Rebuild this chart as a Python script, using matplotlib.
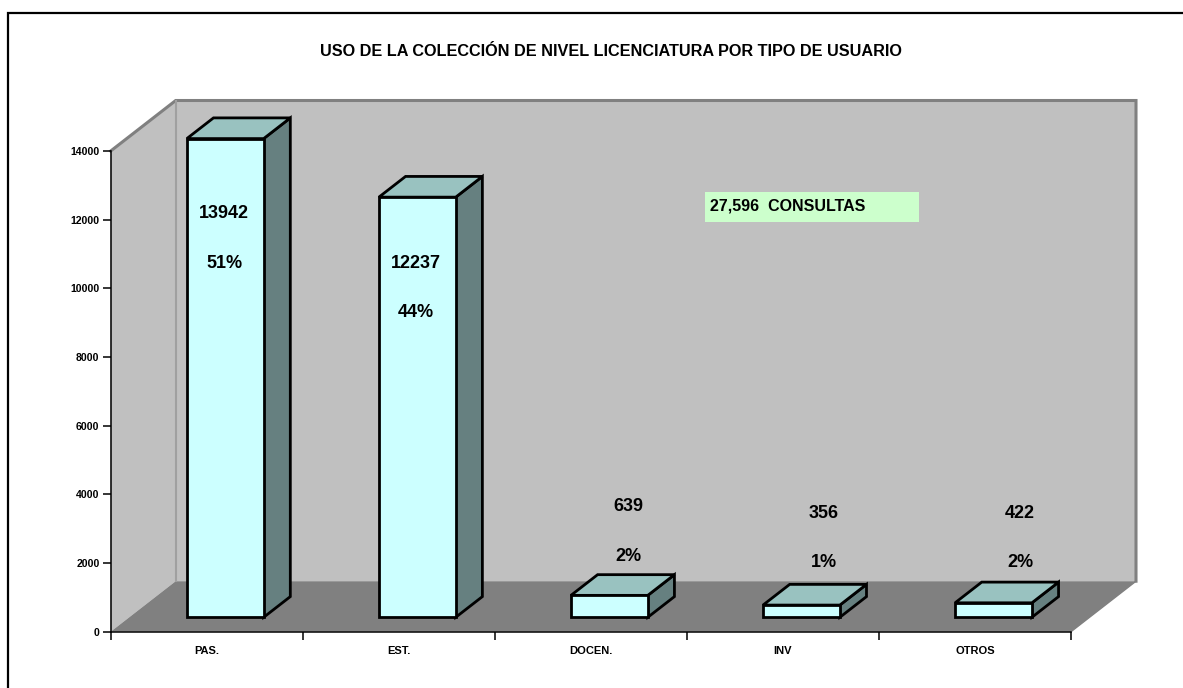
import matplotlib
matplotlib.use("Agg")
import matplotlib.pyplot as plt
from matplotlib.patches import Polygon, Rectangle
from matplotlib.lines import Line2D

plt.rcParams['font.family'] = ['Liberation Sans', 'DejaVu Sans']

# ---- data ----
categories = ["PAS.", "EST.", "DOCEN.", "INV", "OTROS"]
values = [13942, 12237, 639, 356, 422]
percents = ["51%", "44%", "2%", "1%", "2%"]
total_label = "27,596  CONSULTAS"
title = "USO DE LA COLECCIÓN DE NIVEL LICENCIATURA POR TIPO DE USUARIO"
yticks = [0, 2000, 4000, 6000, 8000, 10000, 12000, 14000]

# ---- layout (label positions in axis units) ----
label_x = [0.590, 1.590, 2.694, 3.714, 4.735]
num_y = [12180, 10724, 3632, 3457, 3457]
pct_y = [10738, 9282, 2176, 2001, 2001]

W, H = 1183, 688
fig = plt.figure(figsize=(W / 100, H / 100), dpi=100)
fig.patch.set_facecolor("white")

# front plane of the 3D plot
left_px, right_px, bottom_px, top_px = 110.7, 1071.0, 631.7, 151.0
ax = fig.add_axes([left_px / W, 1 - bottom_px / H,
                   (right_px - left_px) / W, (bottom_px - top_px) / H])
ncat = len(categories)
ymax = 14000
ax.set_xlim(0, ncat)
ax.set_ylim(0, ymax)
ax.patch.set_visible(False)

px_per_cat = (right_px - left_px) / ncat
px_per_val = (bottom_px - top_px) / ymax
DX = 65.0 / px_per_cat      # depth offset in category units
DY = 50.5 / px_per_val      # depth offset in value units

wall_c = "#C0C0C0"
floor_c = "#808080"
edge_c = "#808080"

# back wall
ax.add_patch(Polygon([(DX, DY), (ncat + DX, DY), (ncat + DX, ymax + DY), (DX, ymax + DY)],
                     closed=True, facecolor=wall_c, edgecolor="none", clip_on=False, zorder=0))
# side wall
ax.add_patch(Polygon([(0, 0), (DX, DY), (DX, ymax + DY), (0, ymax)],
                     closed=True, facecolor=wall_c, edgecolor="none", clip_on=False, zorder=0))
# floor
ax.add_patch(Polygon([(0, 0), (ncat, 0), (ncat + DX, DY), (DX, DY)],
                     closed=True, facecolor=floor_c, edgecolor="none", clip_on=False, zorder=0.5))
# wall edges
ax.add_line(Line2D([0, DX, ncat + DX, ncat + DX], [ymax, ymax + DY, ymax + DY, DY],
                   color=edge_c, lw=2.2, clip_on=False, zorder=0.6, solid_joinstyle="miter"))
ax.add_line(Line2D([DX, DX], [DY, ymax + DY], color="#A0A0A0", lw=1.5,
                   clip_on=False, zorder=0.6))
ax.add_line(Line2D([ncat, ncat + DX], [0, DY], color="#808080", lw=1.0,
                   clip_on=False, zorder=0.6))

# bars
bw = 0.40
fd = 0.285   # front depth fraction
bd = 0.41    # bar depth fraction
front_c = "#CCFFFF"
top_c = "#99C2C0"
side_c = "#668080"
blw = 2.0
for i, v in enumerate(values):
    x0 = i + 0.5 - bw / 2 + fd * DX
    y0 = fd * DY
    ddx, ddy = bd * DX, bd * DY
    ax.add_patch(Polygon([(x0 + bw, y0), (x0 + bw + ddx, y0 + ddy),
                          (x0 + bw + ddx, y0 + ddy + v), (x0 + bw, y0 + v)],
                         closed=True, facecolor=side_c, edgecolor="black", lw=blw,
                         clip_on=False, zorder=2, joinstyle="miter"))
    ax.add_patch(Polygon([(x0, y0 + v), (x0 + bw, y0 + v), (x0 + bw + ddx, y0 + v + ddy),
                          (x0 + ddx, y0 + v + ddy)],
                         closed=True, facecolor=top_c, edgecolor="black", lw=blw,
                         clip_on=False, zorder=2, joinstyle="miter"))
    ax.add_patch(Rectangle((x0, y0), bw, v, facecolor=front_c, edgecolor="black", lw=blw,
                           clip_on=False, zorder=3, joinstyle="miter"))

# data labels
for i in range(ncat):
    ax.text(label_x[i], num_y[i], str(values[i]), ha="center", va="center",
            fontsize=13, fontweight="bold", zorder=5, clip_on=False)
    ax.text(label_x[i], pct_y[i], percents[i], ha="center", va="center",
            fontsize=13, fontweight="bold", zorder=5, clip_on=False)

# axes styling
for s in ["top", "right"]:
    ax.spines[s].set_visible(False)
for s in ["left", "bottom"]:
    ax.spines[s].set_color("black")
    ax.spines[s].set_linewidth(1.1)
    ax.spines[s].set_zorder(4)
ax.set_yticks(yticks)
ax.set_yticklabels([str(t) for t in yticks], fontsize=7.6, fontweight="bold")
ax.tick_params(axis="y", direction="out", length=6, width=1.1, pad=2)
ax.set_xticks(range(ncat + 1))
ax.set_xticklabels([])
ax.tick_params(axis="x", which="major", direction="out", length=6, width=1.1)
ax.set_xticks([i + 0.5 for i in range(ncat)], minor=True)
ax.set_xticklabels(categories, minor=True, fontsize=8, fontweight="bold")
ax.tick_params(axis="x", which="minor", length=0, pad=10)

# title
fig.text(611 / W, 1 - 51 / H, title, ha="center", va="center",
         fontsize=11.7, fontweight="bold")

# total box
fig.patches.append(Rectangle((705 / W, 1 - 222 / H), (919 - 705) / W, (222 - 192) / H,
                             transform=fig.transFigure, facecolor="#CCFFCC",
                             edgecolor="none", zorder=5))
fig.text(710 / W, 1 - 206 / H, total_label, ha="left", va="center",
         fontsize=11.5, fontweight="bold", zorder=6)

# outer frame (partially visible)
fig.add_artist(Line2D([8 / W, 8 / W, 1.0], [0.0, 1 - 13 / H, 1 - 13 / H],
                      transform=fig.transFigure, color="black", lw=1.6,
                      solid_joinstyle="miter"))

fig.savefig("out.png", dpi=100)
